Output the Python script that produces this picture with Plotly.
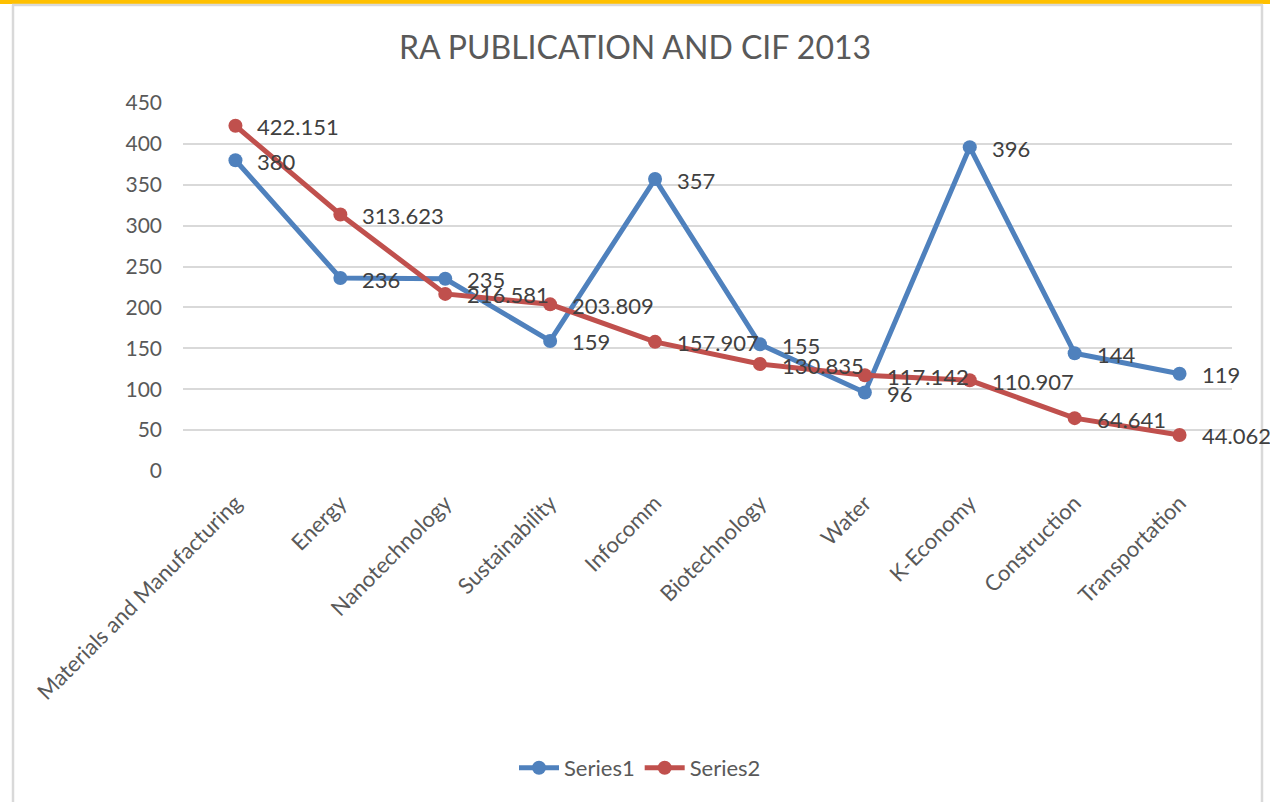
import plotly.graph_objects as go

categories = ["Materials and Manufacturing", "Energy", "Nanotechnology", "Sustainability",
              "Infocomm", "Biotechnology", "Water", "K-Economy", "Construction", "Transportation"]
series1 = [380, 236, 235, 159, 357, 155, 96, 396, 144, 119]
series2 = [422.151, 313.623, 216.581, 203.809, 157.907, 130.835, 117.142, 110.907, 64.641, 44.062]
series1_labels = ["380", "236", "235", "159", "357", "155", "96", "396", "144", "119"]
series2_labels = ["422.151", "313.623", "216.581", "203.809", "157.907", "130.835",
                  "117.142", "110.907", "64.641", "44.062"]
y_ticks = [0, 50, 100, 150, 200, 250, 300, 350, 400, 450]

W, H = 1270, 802
L, R, T, B = 183, 38, 103, 331
pw, ph = W - L - R, H - T - B

def px(x):
    return (x - L) / pw

def py(y):
    return (H - B - y) / ph

FONT = "Lato"
BLUE = "#4F81BD"
RED = "#C0504D"

fig = go.Figure()
fig.add_trace(go.Scatter(x=categories, y=series1, name="Series1", mode="lines+markers",
                         line=dict(color=BLUE, width=5), marker=dict(size=14, color=BLUE)))
fig.add_trace(go.Scatter(x=categories, y=series2, name="Series2", mode="lines+markers",
                         line=dict(color=RED, width=5), marker=dict(size=14, color=RED)))

annotations = []
for lab_list, vals in ((series1_labels, series1), (series2_labels, series2)):
    for c, v, t in zip(categories, vals, lab_list):
        annotations.append(dict(x=c, y=v, text=t, showarrow=False, xanchor="left",
                                yanchor="middle", xshift=20, yshift=-1,
                                font=dict(family=FONT, size=22, color="#404040")))

shapes = [
    dict(type="rect", xref="paper", yref="paper", x0=px(0), x1=px(W), y0=py(4), y1=py(-2),
         fillcolor="#FFC000", line=dict(width=0), layer="above"),
    dict(type="line", xref="paper", yref="paper", x0=px(13), x1=px(13), y0=py(5), y1=py(H + 5),
         line=dict(color="#D9D9D9", width=2.5)),
    dict(type="line", xref="paper", yref="paper", x0=px(1262), x1=px(1262), y0=py(5), y1=py(H + 5),
         line=dict(color="#D9D9D9", width=2.5)),
    dict(type="line", xref="paper", yref="paper", x0=px(12), x1=px(1263), y0=py(5), y1=py(5),
         line=dict(color="#D9D9D9", width=2.5)),
]

fig.update_layout(
    width=W, height=H,
    margin=dict(l=L, r=R, t=T, b=B),
    paper_bgcolor="white", plot_bgcolor="white",
    title=dict(text="RA PUBLICATION AND CIF 2013", x=0.5, xanchor="center",
               y=1 - 48 / H, yanchor="middle",
               font=dict(family=FONT, size=32, color="#595959")),
    xaxis=dict(type="category", range=[-0.5, 9.5], tickangle=-45, showgrid=False,
               showline=False, ticks="", zeroline=False, ticklabelstandoff=14,
               tickfont=dict(family=FONT, size=22, color="#595959")),
    yaxis=dict(range=[0, 450], tickvals=y_ticks, showgrid=True, gridcolor="#D9D9D9",
               gridwidth=1.5, zeroline=False, showline=False, ticks="", ticklabelstandoff=20,
               tickfont=dict(family=FONT, size=21, color="#595959")),
    legend=dict(orientation="h", x=px(640), xanchor="center", y=py(768), yanchor="middle",
                font=dict(family=FONT, size=22, color="#595959"), traceorder="normal",
                itemwidth=40),
    annotations=annotations,
    shapes=shapes,
)

fig.write_html("out.html", config={"displayModeBar": False},
               post_script="document.body.style.margin='0';document.body.style.overflow='hidden';")
